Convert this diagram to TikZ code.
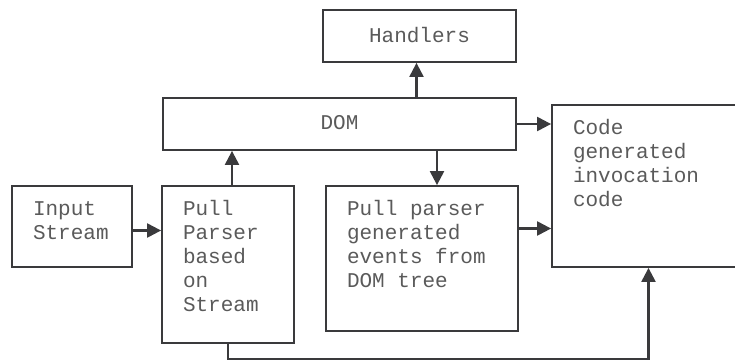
\documentclass[tikz,border=0pt]{standalone}
\usepackage{fontspec}
\setmonofont{Liberation Mono}
\usetikzlibrary{arrows.meta}

\definecolor{linegray}{HTML}{3A3A3C}
\definecolor{textgray}{HTML}{5A5A5A}

% text that sits at the top of a fixed box
\newcommand{\toptext}[3]{\parbox[c][#2][t]{#1}{\raggedright\strut #3}}

\tikzset{
	blk/.style={draw=linegray, line width=1.8pt, inner xsep=21pt, inner ysep=13pt,
		font=\ttfamily\fontsize{21}{24}\selectfont, text=textgray},
	midblk/.style={blk, inner sep=0pt, text depth=3pt},
	arr/.style={linegray, line width=2.2pt, -{Triangle[length=14pt,width=14pt]}}
}

\begin{document}
\begin{tikzpicture}[x=1pt,y=-1pt]
\useasboundingbox (0,0) rectangle (735,360);

\node[midblk, minimum width=193pt, minimum height=52pt] (handlers) at (419.5,36)
	{Handlers};
\node[midblk, minimum width=353pt, minimum height=52pt] (dom) at (339.5,124)
	{DOM};
\node[blk] (input) at (72,226.5)
	{\toptext{78pt}{55pt}{Input\\Stream}};
\node[blk] (pullp) at (228,264.5)
	{\toptext{90pt}{131pt}{Pull\\Parser\\based\\on\\Stream}};
\node[blk] (events) at (422,258.5)
	{\toptext{150pt}{119pt}{Pull parser\\generated\\events from\\DOM tree}};
\node[blk] (code) at (648.5,186) % runs past the right edge
	{\toptext{151pt}{136pt}{Code\\generated\\invocation\\code}};

\draw[arr] ([yshift=-4pt]input.east) -- ([yshift=-4pt]input.east -| pullp.west);
\draw[arr] ([xshift=4pt]pullp.north) -- ([xshift=4pt]pullp.north |- dom.south);
\draw[arr] ([xshift=-3pt]handlers.south |- dom.north) -- ([xshift=-3pt]handlers.south);
\draw[arr] ([xshift=15pt]events.north |- dom.south) -- ([xshift=15pt]events.north);
\draw[arr] (dom.east) -- (dom.east -| code.west);
\draw[arr] ([yshift=30pt]events.east) -- ([yshift=30pt]events.east -| code.west);
\draw[arr] (pullp.south) -- ++(0,15) -| (code.south);
\end{tikzpicture}
\end{document}
